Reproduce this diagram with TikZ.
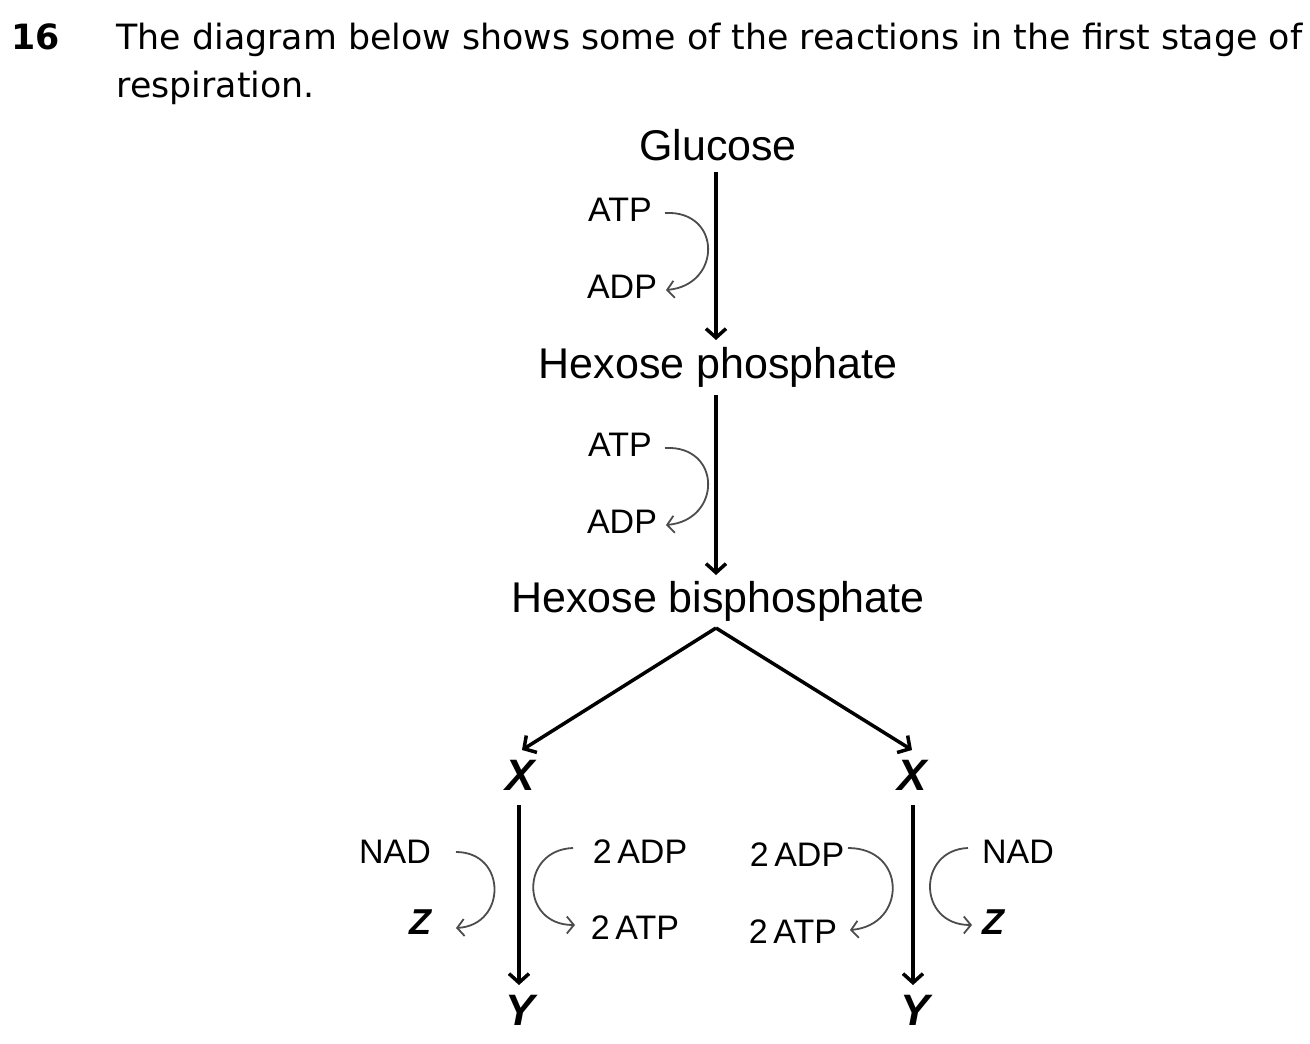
\documentclass[tikz,border=0pt]{standalone}
\usepackage{fontspec}
\setmainfont{Liberation Sans}
\newfontfamily\hdfont{DejaVu Sans}
\usetikzlibrary{arrows.meta}
\begin{document}
\begin{tikzpicture}[x=1pt,y=-1pt,
  main/.style={line width=3.5pt,-{Straight Barb[length=9pt,width=20pt,line width=3.5pt]}},
  cyc/.style={line width=1.8pt,draw=black!70,-{Straight Barb[length=7pt,width=17pt,line width=1.8pt]}},
  big/.style={font=\fontsize{43}{46}\selectfont},
  sm/.style={font=\fontsize{34}{36}\selectfont},
  letter/.style={font=\fontsize{44}{46}\selectfont\bfseries\itshape},
  sletter/.style={font=\fontsize{36}{38}\selectfont\bfseries\itshape},
  hd/.style={font=\hdfont\fontsize{34.8}{38}\selectfont,anchor=base west}]
\useasboundingbox (0,0) rectangle (1310,1044);
\node[hd] (n16) at (8,49) {\bfseries 16};
\node[hd] (l1) at (113,49) {The diagram below shows some of the reactions in the first stage of};
\node[hd] (l2) at (113,97) {respiration.};
\node[big] (glu) at (718,145) {Glucose};
\node[big] (hp) at (718,367) {Hexose phosphate};
\node[big] (hb) at (718,601) {Hexose bisphosphate};
\node[letter] (xl) at (520,775) {X};
\node[letter] (xr) at (912,775) {X};
\node[letter] (yl) at (520,1010) {Y};
\node[letter] (yr) at (915,1010) {Y};
\coordinate (a1) at (716,172); \coordinate (b1) at (716,340);
\coordinate (a2) at (716,395); \coordinate (b2) at (716,575);
\coordinate (c0) at (716,628);
\coordinate (cl) at (522,750); \coordinate (cr) at (912,750);
\coordinate (vl1) at (519,805); \coordinate (vl2) at (519,985);
\coordinate (vr1) at (913,805); \coordinate (vr2) at (913,985);
\draw[main] (a1) -- (b1);
\draw[main] (a2) -- (b2);
\draw[main] (c0) -- (cl);
\draw[main] (c0) -- (cr);
\draw[main] (vl1) -- (vl2);
\draw[main] (vr1) -- (vr2);
\node[sm] (atp1) at (620,210) {ATP};
\node[sm] (adp1) at (622,287) {ADP};
\node[sm] (atp2) at (620,445) {ATP};
\node[sm] (adp2) at (622,522) {ADP};
\draw[cyc] (665,213) .. controls (722,210) and (722,285) .. (666,290);
\draw[cyc] (665,448) .. controls (722,445) and (722,520) .. (666,525);
\node[sm] (nadl) at (395,852) {NAD};
\node[sletter] (zl) at (420,922) {Z};
\node[sm] (adpl) at (640,852) {2\,ADP};
\node[sm] (atpl) at (635,928) {2\,ATP};
\node[sm] (adpr) at (797,855) {2\,ADP};
\node[sm] (atpr) at (793,932) {2\,ATP};
\node[sm] (nadr) at (1018,852) {NAD};
\node[sletter] (zr) at (993,922) {Z};
\draw[cyc] (456,852) .. controls (507,852) and (507,925) .. (456,928);
\draw[cyc] (573,848) .. controls (520,850) and (520,925) .. (575,925);
\draw[cyc] (848,848) .. controls (907,848) and (907,925) .. (850,930);
\draw[cyc] (968,848) .. controls (917,850) and (917,925) .. (972,925);
\end{tikzpicture}
\end{document}
